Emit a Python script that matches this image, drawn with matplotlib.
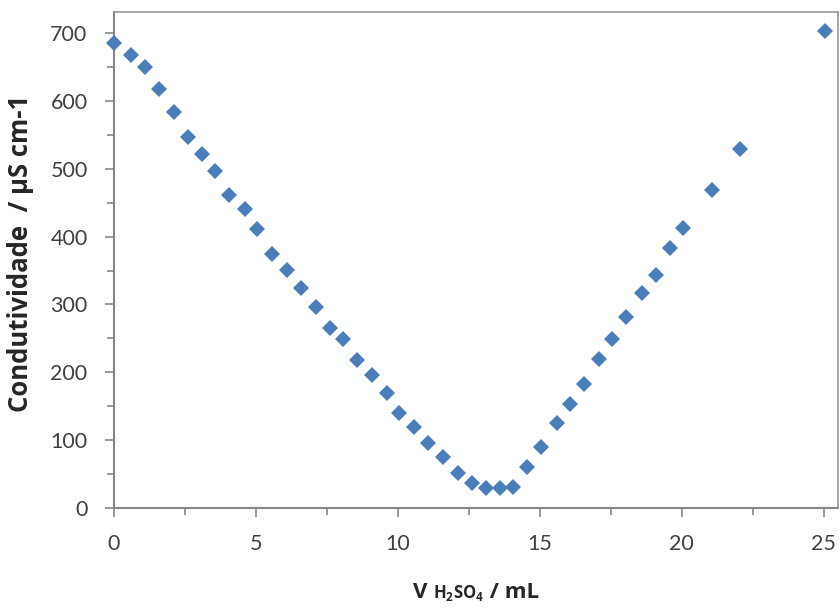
import matplotlib
matplotlib.use('Agg')
import matplotlib.pyplot as plt
from matplotlib.ticker import MultipleLocator
from matplotlib.offsetbox import TextArea, HPacker, AnchoredOffsetbox

plt.rcParams['font.family'] = ['Lato', 'DejaVu Sans']
plt.rcParams['mathtext.fontset'] = 'custom'
plt.rcParams['mathtext.rm'] = 'Open Sans'
plt.rcParams['mathtext.bf'] = 'Open Sans:bold'

# volume de H2SO4 (mL) e condutividade (uS/cm)
volume = [0, 0.6, 1.1, 1.6, 2.1, 2.6, 3.1, 3.55, 4.05, 4.6, 5.05, 5.55, 6.1, 6.6,
          7.1, 7.6, 8.05, 8.55, 9.1, 9.6, 10.05, 10.55, 11.05, 11.6, 12.1, 12.6,
          13.1, 13.6, 14.05, 14.55, 15.05, 15.6, 16.05, 16.55, 17.1, 17.55, 18.05,
          18.6, 19.1, 19.6, 20.05, 21.05, 22.05, 25.05]
condutividade = [685, 668, 650, 617, 584, 547, 522, 497, 461, 441, 411, 374, 351, 324,
                 296, 265, 249, 218, 196, 169, 140, 119, 96, 75, 52, 37,
                 30, 29, 31, 60, 90, 125, 153, 183, 220, 249, 281,
                 317, 343, 383, 413, 469, 529, 703]

grey = '#878787'
text_col = '#404040'
label_col = '#262626'

fig = plt.figure(figsize=(8.4, 6.1), dpi=100)
ax = fig.add_axes([0.1357, 0.1672, 0.8619, 0.8131])

ax.plot(volume, condutividade, linestyle='none', marker='D', markersize=8.5,
        color='#4a7ebb', markeredgewidth=0, clip_on=False, zorder=3)

ax.set_xlim(0, 25.5)
ax.set_ylim(0, 731)
ax.xaxis.set_major_locator(MultipleLocator(5))
ax.xaxis.set_minor_locator(MultipleLocator(2.5))
ax.yaxis.set_major_locator(MultipleLocator(100))
ax.yaxis.set_minor_locator(MultipleLocator(50))

for s in ax.spines.values():
    s.set_color('#9a9a9a')
    s.set_linewidth(1.2)
ax.spines['left'].set_color(grey)
ax.spines['bottom'].set_color(grey)
ax.spines['left'].set_linewidth(1.5)
ax.spines['bottom'].set_linewidth(1.5)

ax.tick_params(top=False, right=False, which='both')
ax.tick_params(which='major', direction='out', length=6.5, width=1.2, color=grey,
               labelsize=15.5, labelcolor=text_col)
ax.tick_params(which='minor', direction='out', length=5, width=1.2, color=grey)
ax.xaxis.set_tick_params(which='major', pad=12.5)
ax.yaxis.set_tick_params(which='major', pad=12.5)

ax.set_ylabel('Condutividade  / µS cm-1', fontsize=18.5, fontweight='bold',
              family='Open Sans', color=label_col)
ax.yaxis.set_label_coords(-0.11, 0.514)

# rótulo do eixo x com H2SO4 menor
partes = [
    TextArea('V ', textprops=dict(fontsize=16, fontweight='bold',
                                  family='Open Sans', color=label_col)),
    TextArea(r'$\mathbf{H_2SO_4}$', textprops=dict(fontsize=12, color=label_col)),
    TextArea(' / mL', textprops=dict(fontsize=16, fontweight='bold',
                                     family='Open Sans', color=label_col)),
]
rotulo = HPacker(children=partes, align='baseline', pad=0, sep=0)
caixa = AnchoredOffsetbox(loc='upper center', child=rotulo, pad=0, borderpad=0,
                          frameon=False, bbox_to_anchor=(0.5, -0.149),
                          bbox_transform=ax.transAxes)
ax.add_artist(caixa)

fig.savefig('out.png', dpi=100, facecolor='white')
